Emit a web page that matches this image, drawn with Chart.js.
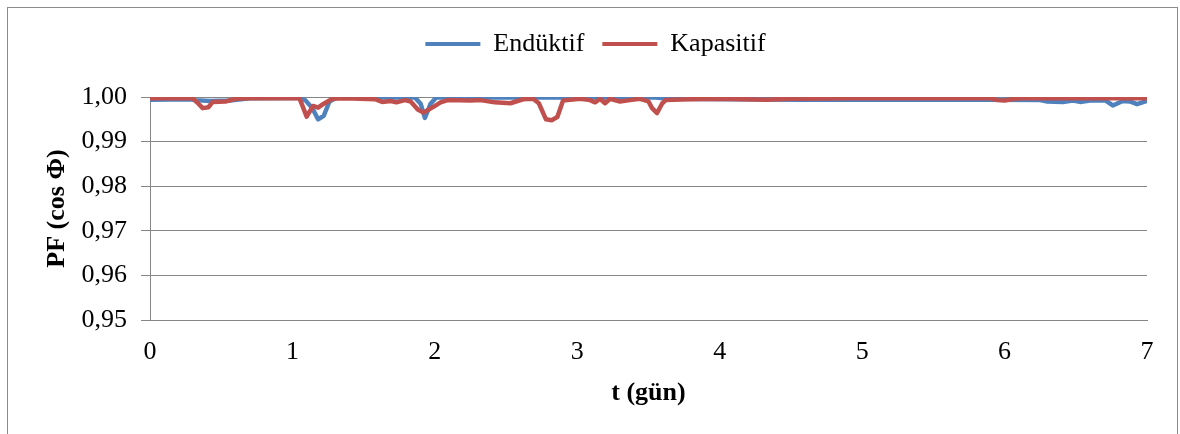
<!DOCTYPE html>
<html>
<head>
<meta charset="utf-8">
<script src="https://cdn.jsdelivr.net/npm/chart.js@4.4.1/dist/chart.umd.min.js"></script>
<style>
html,body{margin:0;padding:0;background:#fff;}
#wrap{width:1180px;height:434px;position:relative;}
</style>
</head>
<body>
<div id="wrap"><canvas id="c" width="1180" height="434"></canvas></div>
<script>
// ---- data ----
const seriesNames = ['Endüktif', 'Kapasitif'];
const xTicks = [0, 1, 2, 3, 4, 5, 6, 7];
const yTicks = [0.95, 0.96, 0.97, 0.98, 0.99, 1.00];

const tEnd = [0, 0.28, 0.32, 0.42, 0.56, 0.70, 1.03, 1.09, 1.14, 1.18, 1.22, 1.26, 1.31, 1.86, 1.90, 1.93, 1.97, 2.01, 3.55, 3.64, 4.56, 5.90, 6.25, 6.30, 6.41, 6.48, 6.53, 6.60, 6.71, 6.76, 6.83, 6.88, 6.93, 7.0];
const vEnd = [0.9994, 0.9995, 0.9993, 0.9991, 0.9992, 0.9997, 0.9998, 0.9993, 0.9975, 0.9950, 0.9958, 0.9990, 0.9999, 0.9999, 0.9985, 0.9953, 0.9985, 0.9999, 0.9999, 0.9996, 0.9994, 0.9994, 0.9993, 0.9990, 0.9989, 0.9992, 0.9989, 0.9992, 0.9992, 0.9981, 0.9991, 0.9990, 0.9984, 0.9991];

const tKap = [0, 0.30, 0.34, 0.37, 0.41, 0.44, 0.53, 0.60, 0.70, 1.05, 1.10, 1.145, 1.18, 1.22, 1.28, 1.37, 1.58, 1.63, 1.69, 1.73, 1.79, 1.83, 1.88, 1.92, 1.99, 2.04, 2.09, 2.25, 2.32, 2.42, 2.53, 2.62, 2.69, 2.73, 2.78, 2.82, 2.86, 2.90, 3.02, 3.09, 3.125, 3.16, 3.195, 3.23, 3.30, 3.37, 3.44, 3.50, 3.525, 3.56, 3.595, 3.62, 3.79, 4.0, 4.33, 4.49, 4.92, 5.90, 5.95, 6.0, 6.05, 6.11, 7.0];
const vKap = [0.9997, 0.9997, 0.9985, 0.9975, 0.9977, 0.9989, 0.9990, 0.9996, 0.9997, 0.9997, 0.9956, 0.9980, 0.9976, 0.9985, 0.9996, 0.9997, 0.9995, 0.9989, 0.9991, 0.9988, 0.9993, 0.9990, 0.9972, 0.9965, 0.9978, 0.9988, 0.9993, 0.9992, 0.9993, 0.9988, 0.9986, 0.9995, 0.9996, 0.9986, 0.9950, 0.9948, 0.9955, 0.9992, 0.9996, 0.9993, 0.9988, 0.9996, 0.9986, 0.9996, 0.9990, 0.9993, 0.9996, 0.9990, 0.9975, 0.9964, 0.9985, 0.9993, 0.9995, 0.9996, 0.9994, 0.9996, 0.9997, 0.9997, 0.9993, 0.9992, 0.9995, 0.9997, 0.9997];

const xTitle = 't (gün)';
const yTitle = 'PF (cos Φ)';

// ---- chart ----
const BLUE = '#4F81BD', RED = '#C0504D', GRID = '#868686';
const SERIF = '"Liberation Serif", "Times New Roman", serif';
const toXY = (ts, vs) => ts.map((t, i) => ({x: t, y: vs[i]}));

const borderPlugin = {
  id: 'outerBorder',
  beforeDraw(chart) {
    const ctx = chart.ctx;
    ctx.save();
    ctx.fillStyle = '#fff';
    ctx.fillRect(0, 0, chart.width, chart.height);
    ctx.strokeStyle = '#8c8c8c';
    ctx.lineWidth = 1;
    ctx.strokeRect(7.5, 7.5, 1170, 440);
    ctx.restore();
  }
};

new Chart(document.getElementById('c'), {
  type: 'line',
  data: {
    datasets: [
      {label: seriesNames[0], data: toXY(tEnd, vEnd), borderColor: BLUE, backgroundColor: BLUE,
       borderWidth: 4.5, pointRadius: 0, tension: 0, borderJoinStyle: 'round', borderCapStyle: 'round', order: 1},
      {label: seriesNames[1], data: toXY(tKap, vKap), borderColor: RED, backgroundColor: RED,
       borderWidth: 4.5, pointRadius: 0, tension: 0, borderJoinStyle: 'round', borderCapStyle: 'round', order: 0}
    ]
  },
  options: {
    responsive: false,
    animation: false,
    events: [],
    layout: {padding: {left: 44, right: 33, top: 13, bottom: 10}},
    plugins: {
      tooltip: {enabled: false},
      legend: {
        display: true, position: 'top', align: 'center',
        labels: {
          font: {family: SERIF, size: 26}, color: '#000',
          boxWidth: 55, boxHeight: 4, padding: 18,
          sort: (a, b) => a.datasetIndex - b.datasetIndex,
          generateLabels: (chart) => Chart.defaults.plugins.legend.labels.generateLabels(chart)
            .map(it => Object.assign(it, {lineWidth: 0, fillStyle: it.strokeStyle}))
        }
      },
      subtitle: {display: true, text: '', weight: 500, font: {size: 10}, padding: {top: 18, bottom: 0}}
    },
    scales: {
      x: {
        type: 'linear', min: 0, max: 7,
        afterBuildTicks: (s) => { s.ticks = xTicks.map(v => ({value: v})); },
        afterFit: (s) => { s.height = 104; },
        grid: {display: false, drawTicks: false},
        border: {display: true, color: GRID, width: 1},
        ticks: {font: {family: SERIF, size: 26}, color: '#000', padding: 17, maxRotation: 0,
                callback: (v) => String(v)},
        title: {display: true, text: xTitle, color: '#000', font: {family: SERIF, size: 26, weight: 'bold'},
                padding: {top: 0, bottom: 15}}
      },
      y: {
        type: 'linear', min: 0.95, max: 1.00,
        afterBuildTicks: (s) => { s.ticks = yTicks.map(v => ({value: v})); },
        afterFit: (s) => { s.width = 106; },
        grid: {display: true, color: GRID, lineWidth: 1, drawTicks: true, tickLength: 9, tickColor: GRID},
        border: {display: true, color: GRID, width: 1},
        ticks: {font: {family: SERIF, size: 26}, color: '#000', padding: 14,
                callback: (v) => Number(v).toFixed(2).replace('.', ',')},
        title: {display: true, text: yTitle, color: '#000', font: {family: SERIF, size: 26, weight: 'bold'},
                padding: {top: -2, bottom: 0}}
      }
    }
  },
  plugins: [borderPlugin]
});
</script>
</body>
</html>
